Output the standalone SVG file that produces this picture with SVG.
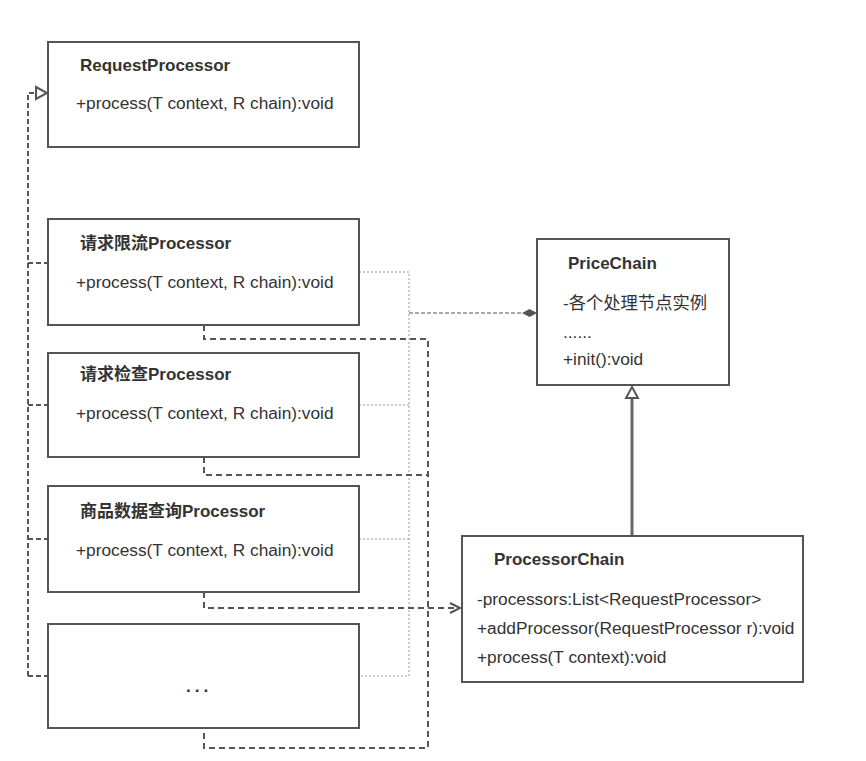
<svg xmlns="http://www.w3.org/2000/svg" width="866" height="761" viewBox="0 0 866 761">
<style>
.box{fill:#fff;stroke:#555;stroke-width:2}
.t{font-family:"Liberation Sans","Noto Sans CJK SC",sans-serif;font-size:17.3px;fill:#333}
.b{font-weight:bold;font-size:17px}
.dl{fill:none;stroke:#555;stroke-width:2;stroke-dasharray:5 3}
.db{fill:none;stroke:#555;stroke-width:2;stroke-dasharray:6 4}
.dt{fill:none;stroke:#999;stroke-width:1;stroke-dasharray:2 2}
.dd{fill:none;stroke:#555;stroke-width:1;stroke-dasharray:4 2}
</style>
<rect width="866" height="761" fill="#fff"/>
<g id="connectors">
<path class="dl" d="M28,676 V93 H36"/>
<path class="dl" d="M28,263 H48 M28,405 H48 M28,539 H48 M28,676 H48"/>
<polygon points="36,87 47,93 36,99" fill="#fff" stroke="#555" stroke-width="2"/>
<path class="dt" d="M359,272 H409 V676 H359 M359,405 H409 M359,539 H409"/>
<path class="dd" d="M409,313 H522"/>
<polygon points="522,313 529.5,309 537,313 529.5,317" fill="#555"/>
<path class="db" d="M204,325 V339 H428 V748 H204 V728"/>
<path class="db" d="M204,457 V475 H428"/>
<path class="db" d="M204,592 V608 H460"/>
<path d="M450,603 L460,608 L450,613" fill="none" stroke="#555" stroke-width="2"/>
<path d="M632,398 V536" fill="none" stroke="#666" stroke-width="3"/>
<polygon points="632,387 638,398 626,398" fill="#fff" stroke="#555" stroke-width="2"/>
</g>
<g id="RequestProcessor">
<rect class="box" x="48" y="42" width="311" height="105"/>
<text class="t b" x="80" y="71">RequestProcessor</text>
<text class="t" x="76" y="109">+process(T context, R chain):void</text>
</g>
<g id="LimitProcessor">
<rect class="box" x="48" y="219" width="311" height="106"/>
<text class="t b" x="80" y="249">请求限流Processor</text>
<text class="t" x="76" y="288">+process(T context, R chain):void</text>
</g>
<g id="CheckProcessor">
<rect class="box" x="48" y="353" width="311" height="104"/>
<text class="t b" x="80" y="380">请求检查Processor</text>
<text class="t" x="76" y="419">+process(T context, R chain):void</text>
</g>
<g id="QueryProcessor">
<rect class="box" x="48" y="486" width="311" height="106"/>
<text class="t b" x="80" y="517">商品数据查询Processor</text>
<text class="t" x="76" y="556">+process(T context, R chain):void</text>
</g>
<g id="MoreProcessor">
<rect class="box" x="48" y="624" width="311" height="104"/>
<text class="t" x="186" y="692" font-weight="bold" font-size="34" letter-spacing="4">...</text>
</g>
<g id="PriceChain">
<rect class="box" x="537" y="239" width="192" height="146"/>
<text class="t b" x="568" y="269">PriceChain</text>
<text class="t" x="563" y="309">-各个处理节点实例</text>
<text class="t" x="563" y="338">......</text>
<text class="t" x="563" y="365">+init():void</text>
</g>
<g id="ProcessorChain">
<rect class="box" x="462" y="536" width="341" height="146"/>
<text class="t b" x="494" y="565">ProcessorChain</text>
<text class="t" x="477" y="605">-processors:List&lt;RequestProcessor&gt;</text>
<text class="t" x="477" y="634">+addProcessor(RequestProcessor r):void</text>
<text class="t" x="477" y="663">+process(T context):void</text>
</g>
</svg>
